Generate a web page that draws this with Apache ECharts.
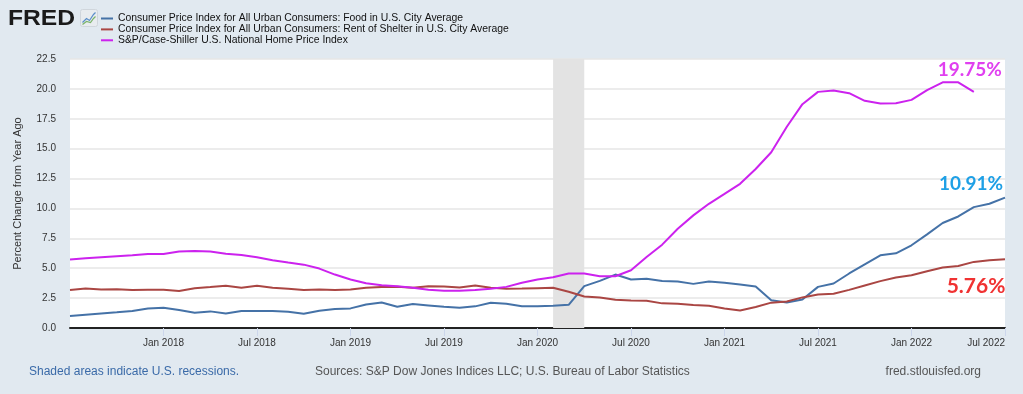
<!DOCTYPE html>
<html>
<head>
<meta charset="utf-8">
<script src="https://cdn.jsdelivr.net/npm/echarts@6/dist/echarts.min.js"></script>
<style>
html,body{margin:0;padding:0;background:#e1e9f0;}
#c{width:1023px;height:394px;}
</style>
</head>
<body>
<div id="c"></div>
<script>
// Monthly categories Jul 2017 .. Jul 2022
const months = [
 '2017-07','2017-08','2017-09','2017-10','2017-11','2017-12',
 '2018-01','2018-02','2018-03','2018-04','2018-05','2018-06','2018-07','2018-08','2018-09','2018-10','2018-11','2018-12',
 '2019-01','2019-02','2019-03','2019-04','2019-05','2019-06','2019-07','2019-08','2019-09','2019-10','2019-11','2019-12',
 '2020-01','2020-02','2020-03','2020-04','2020-05','2020-06','2020-07','2020-08','2020-09','2020-10','2020-11','2020-12',
 '2021-01','2021-02','2021-03','2021-04','2021-05','2021-06','2021-07','2021-08','2021-09','2021-10','2021-11','2021-12',
 '2022-01','2022-02','2022-03','2022-04','2022-05','2022-06','2022-07'
];
const monthNames = ['Jan','Feb','Mar','Apr','May','Jun','Jul','Aug','Sep','Oct','Nov','Dec'];

const foodCPI = [
 1.00,1.11,1.22,1.31,1.42,1.64,
 1.69,1.50,1.28,1.39,1.22,1.42,1.42,1.42,1.36,1.19,1.44,1.58,
 1.64,1.97,2.14,1.78,2.00,1.89,1.78,1.69,1.81,2.11,2.03,1.81,
 1.81,1.86,1.94,3.50,3.94,4.47,4.06,4.11,3.94,3.89,3.69,3.89,
 3.78,3.64,3.47,2.33,2.14,2.39,3.44,3.72,4.56,5.33,6.08,6.25,
 6.92,7.83,8.78,9.33,10.11,10.39,10.91
];
const shelterCPI = [
 3.17,3.30,3.22,3.25,3.17,3.20,
 3.20,3.10,3.33,3.42,3.53,3.36,3.53,3.36,3.28,3.17,3.22,3.17,
 3.22,3.36,3.42,3.44,3.36,3.50,3.47,3.39,3.56,3.36,3.28,3.30,
 3.33,3.36,3.03,2.64,2.56,2.36,2.30,2.28,2.06,2.03,1.92,1.86,
 1.64,1.47,1.75,2.12,2.22,2.56,2.80,2.86,3.19,3.56,3.92,4.22,
 4.42,4.75,5.06,5.19,5.53,5.67,5.76
];
const caseShiller = [
 5.72,5.83,5.92,6.00,6.08,6.19,
 6.19,6.39,6.44,6.39,6.22,6.11,5.92,5.67,5.47,5.30,4.97,4.47,
 4.06,3.75,3.58,3.50,3.36,3.19,3.11,3.11,3.17,3.28,3.44,3.78,
 4.06,4.25,4.56,4.56,4.33,4.33,4.83,5.94,6.97,8.30,9.42,10.39,
 11.22,12.06,13.30,14.70,16.83,18.72,19.75,19.86,19.64,19.00,18.78,18.80,
 19.08,19.89,20.55,20.55,19.75,null,null
];
const seriesNames = [
 'Consumer Price Index for All Urban Consumers: Food in U.S. City Average',
 'Consumer Price Index for All Urban Consumers: Rent of Shelter in U.S. City Average',
 'S&P/Case-Shiller U.S. National Home Price Index'
];
const endLabels = ['10.91%','5.76%','19.75%'];
const recession = ['2020-02','2020-04'];

const chart = echarts.init(document.getElementById('c'), null, {renderer:'canvas'});

function isTick(idx, val){
  const m = val.slice(5);
  return idx > 0 && (m === '01' || m === '07');
}
function lastIdx(arr){ for(let i=arr.length-1;i>=0;i--) if(arr[i]!=null) return i; return -1; }

const colors = ['#4572a7','#aa4643','#cc22ee'];
const labelColors = ['#1ea0e6','#f03232','#e040f0'];
const labelSizes = [19,21,19];
const labelOffsets = [[-34,-14],[-29,27],[-4,-22]];
const dataArr = [foodCPI, shelterCPI, caseShiller];

const series = dataArr.map((d,k)=>{
  const li = lastIdx(d);
  const s = {
    name: seriesNames[k],
    type:'line',
    data:d,
    symbol:'none',
    smooth:false,
    lineStyle:{width:2,color:colors[k]},
    itemStyle:{color:colors[k]},
    z: 3+k,
    markPoint:{
      symbol:'circle', symbolSize:0, silent:true,
      data:[{coord:[months[li], d[li]], value:endLabels[k]}],
      label:{show:true, formatter:endLabels[k], color:labelColors[k], fontSize:labelSizes[k], fontWeight:'bold',
        fontFamily:'Lato, "Open Sans", sans-serif', offset:labelOffsets[k]}
    }
  };
  if(k===0){
    s.markArea = {silent:true, itemStyle:{color:'#e3e3e3', opacity:1}, data:[[{xAxis:recession[0]},{xAxis:recession[1]}]]};
  }
  return s;
});

chart.setOption({
  backgroundColor:'#e1e9f0',
  animation:false,
  color: colors,
  grid:{left:70, right:18, top:59, bottom:66, show:true, backgroundColor:'#ffffff', borderWidth:0},
  legend:{
    orient:'vertical', left:101, top:13.5, itemWidth:12, itemHeight:2, itemGap:0.9,
    icon:'rect', padding:0,
    textStyle:{fontSize:10.4, color:'#111', fontFamily:'"Liberation Sans", Arial, sans-serif'},
    data: seriesNames,
    selectedMode:false
  },
  xAxis:{
    type:'category', data:months, boundaryGap:false,
    axisLine:{show:true, onZero:true, lineStyle:{color:'#222', width:2}},
    axisTick:{show:true, length:8, interval:isTick, lineStyle:{color:'#ccd6eb'}},
    axisLabel:{interval:isTick, color:'#333', fontSize:10, margin:10,
      fontFamily:'"Liberation Sans", sans-serif',
      alignMaxLabel:'right',
      formatter:v=>monthNames[parseInt(v.slice(5),10)-1]+' '+v.slice(0,4)},
    splitLine:{show:false}
  },
  yAxis:{
    type:'value', min:0, max:22.5, interval:2.5,
    name:'Percent Change from Year Ago', nameLocation:'middle', nameGap:47,
    nameTextStyle:{color:'#333', fontSize:11, fontFamily:'"Liberation Sans", Arial, sans-serif'},
    axisLine:{show:false}, axisTick:{show:false},
    axisLabel:{color:'#333', fontSize:10, margin:14, fontFamily:'"Liberation Sans", Arial, sans-serif', formatter:v=>v.toFixed(1)},
    splitLine:{show:true, lineStyle:{color:'#e6e6e6', width:1.5}}
  },
  graphic:[
    {type:'text', left:8, top:8, scaleX:1.12, style:{text:'FRED', font:'bold 22px "Liberation Sans", Arial, sans-serif', fill:'#1a1a1a'}},
    {type:'group', left:80, top:9, children:[
      {type:'rect', shape:{x:0,y:0,width:17,height:17,r:2}, style:{fill:'#e8ecef', stroke:'#d0d6dc'}},
      {type:'polyline', shape:{points:[[2,13],[6,9],[9,11],[13,5],[15,3]]}, style:{stroke:'#5b8fc9', lineWidth:1.2, fill:null}},
      {type:'polyline', shape:{points:[[2,15],[6,12],[10,13],[13,9],[15,7]]}, style:{stroke:'#7bb36a', lineWidth:1.2, fill:null}}
    ]},
    {type:'text', left:29, top:366, style:{text:'Shaded areas indicate U.S. recessions.', font:'12px "Liberation Sans", Arial, sans-serif', fill:'#3a6aa8'}},
    {type:'text', left:315, top:366, style:{text:'Sources: S&P Dow Jones Indices LLC; U.S. Bureau of Labor Statistics', font:'12px "Liberation Sans", Arial, sans-serif', fill:'#555'}},
    {type:'text', right:42, top:366, style:{text:'fred.stlouisfed.org', font:'12px "Liberation Sans", Arial, sans-serif', fill:'#555'}}
  ],
  series: series
});
</script>
</body>
</html>
